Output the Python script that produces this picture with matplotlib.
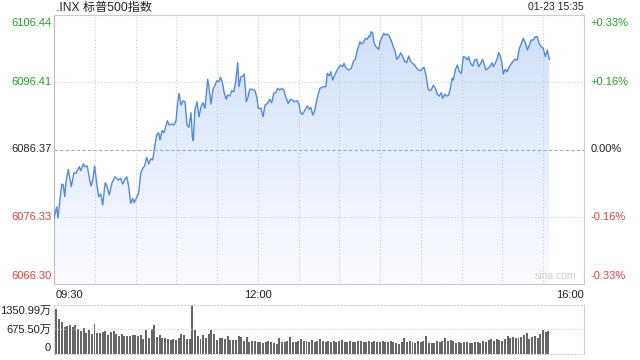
import numpy as np
import matplotlib
matplotlib.use("Agg")
import matplotlib.pyplot as plt
from matplotlib.colors import LinearSegmentedColormap

# ---------------- data ----------------
title = ".INX 标普500指数"
stamp = "01-23 15:35"
prev_close = 6086.37
price_ticks = [6066.30, 6076.33, 6086.37, 6096.41, 6106.44]
pct_labels = ["-0.33%", "-0.16%", "0.00%", "+0.16%", "+0.33%"]
time_labels = ["09:30", "12:00", "16:00"]
vol_ticks = [0, 675.50, 1350.99]
vol_tick_labels = ["0", "675.50万", "1350.99万"]

# minutes after 09:30
minutes = [0.0, 2.0, 2.9, 5.7, 6.8, 7.9, 8.8, 10.5, 12.7, 14.7, 16.2, 18.6, 19.6, 21.6, 22.6, 24.5,
           26.5, 27.4, 28.5, 29.9, 31.4, 32.9, 34.4, 35.8, 37.7, 39.2, 40.7, 42.7, 44.9, 47.3, 49.1,
           50.5, 52.0, 53.5, 55.0, 56.4, 57.9, 58.9, 60.9, 62.3, 63.8, 65.3, 66.7, 68.2, 69.7, 71.2,
           72.6, 74.3, 75.6, 77.0, 78.0, 79.5, 80.9, 83.4, 84.8, 86.8, 88.3, 89.8, 90.7, 92.0, 93.4,
           95.1, 96.4, 97.9, 99.3, 100.8, 101.8, 102.5, 103.7, 105.2, 106.7, 108.2, 109.6, 111.1,
           113.1, 114.0, 115.5, 117.0, 118.5, 119.9, 121.4, 122.4, 123.8, 125.3, 126.8, 127.8, 129.3,
           130.8, 132.2, 133.7, 135.2, 136.1, 137.6, 139.1, 140.0, 141.5, 142.5, 144.0, 145.9, 147.9,
           149.4, 150.3, 152.3, 153.8, 155.3, 157.2, 158.7, 160.2, 161.7, 163.1, 164.6, 166.1, 167.5,
           169.0, 170.9, 172.4, 173.9, 175.3, 176.8, 178.8, 180.3, 181.2, 182.8, 184.9, 186.4, 187.9,
           188.9, 190.4, 191.8, 193.7, 195.7, 198.2, 200.1, 201.1, 202.6, 203.6, 205.1, 207.0, 209.0,
           210.9, 212.4, 213.4, 214.9, 216.8, 218.8, 220.2, 221.7, 223.2, 225.2, 226.1, 227.6, 229.1,
           230.5, 231.6, 232.5, 233.5, 234.5, 235.5, 236.9, 238.9, 239.9, 241.3, 242.8, 243.8, 245.2,
           246.7, 248.2, 249.7, 251.1, 252.2, 253.6, 255.1, 256.6, 258.1, 259.5, 261.0, 262.5, 263.9,
           265.4, 266.9, 268.3, 269.8, 271.3, 272.3, 273.7, 275.2, 276.1, 277.6, 279.1, 280.6, 282.0,
           283.5, 285.0, 286.0, 287.5, 288.9, 290.4, 291.9, 292.9, 293.8, 295.3, 296.8, 298.3, 299.7,
           301.2, 302.7, 304.1, 305.1, 306.6, 308.1, 309.6, 311.0, 312.5, 314.0, 315.4, 316.4, 317.9,
           319.3, 320.8, 322.3, 323.3, 324.7, 326.2, 327.2, 328.2, 329.6, 330.6, 332.1, 333.5, 335.0,
           337.0, 339.0, 340.9, 342.4, 343.8, 345.3, 346.8, 348.3, 349.7, 351.2, 352.7, 354.2, 355.6,
           357.1, 358.6, 360.0, 361.5, 363.0, 364.5]
prices = [6076.15, 6077.83, 6076.15, 6081.22, 6081.07, 6079.33, 6081.57, 6083.42, 6080.82, 6082.91,
          6082.82, 6083.80, 6083.21, 6084.21, 6083.80, 6083.91, 6081.57, 6080.92, 6081.82, 6083.91,
          6081.33, 6079.33, 6079.73, 6078.09, 6081.42, 6080.73, 6079.58, 6081.42, 6082.31, 6081.82,
          6082.07, 6081.22, 6081.82, 6082.31, 6080.82, 6078.34, 6079.09, 6078.43, 6079.24, 6079.92,
          6082.82, 6083.56, 6083.91, 6085.21, 6084.21, 6085.00, 6084.80, 6087.04, 6088.53, 6088.88,
          6087.79, 6089.18, 6088.88, 6090.67, 6090.03, 6090.18, 6090.03, 6090.67, 6092.76, 6094.76,
          6093.01, 6093.65, 6093.50, 6090.03, 6089.68, 6091.86, 6088.28, 6087.68, 6092.26, 6093.50,
          6091.26, 6092.76, 6093.35, 6092.52, 6096.85, 6095.74, 6093.16, 6095.35, 6095.99, 6096.64,
          6096.49, 6097.14, 6096.49, 6094.76, 6093.86, 6094.50, 6094.35, 6095.14, 6094.99, 6096.49,
          6099.32, 6095.74, 6097.23, 6097.34, 6097.64, 6093.50, 6094.01, 6095.35, 6095.35, 6095.14,
          6094.01, 6092.52, 6092.52, 6091.26, 6093.01, 6093.26, 6093.86, 6093.35, 6094.76, 6094.85,
          6095.50, 6095.25, 6095.50, 6095.25, 6094.01, 6093.26, 6093.86, 6093.76, 6093.50, 6093.65,
          6093.16, 6091.97, 6091.59, 6092.37, 6092.86, 6092.37, 6092.67, 6091.52, 6092.16, 6094.01,
          6095.50, 6095.74, 6095.74, 6097.74, 6097.34, 6097.98, 6096.74, 6097.64, 6098.49, 6098.98,
          6098.73, 6099.23, 6098.49, 6098.23, 6098.49, 6099.47, 6099.83, 6101.22, 6102.46, 6102.11,
          6102.31, 6102.96, 6102.81, 6103.31, 6103.20, 6103.95, 6103.80, 6102.31, 6101.71, 6101.32,
          6102.46, 6103.11, 6103.71, 6103.46, 6103.60, 6103.31, 6102.61, 6101.71, 6100.96, 6099.83,
          6100.13, 6100.81, 6100.22, 6099.47, 6099.32, 6100.32, 6099.47, 6099.23, 6098.98, 6098.49,
          6098.23, 6098.13, 6098.49, 6098.64, 6097.49, 6095.50, 6095.17, 6095.25, 6095.99, 6095.50,
          6094.65, 6094.35, 6094.85, 6094.01, 6094.65, 6094.35, 6094.50, 6095.74, 6096.99, 6096.74,
          6098.23, 6098.98, 6097.98, 6097.74, 6100.22, 6100.13, 6099.73, 6100.22, 6099.23, 6098.83,
          6099.73, 6099.83, 6098.73, 6099.23, 6099.83, 6099.13, 6098.23, 6098.49, 6098.73, 6099.32,
          6098.73, 6099.23, 6099.98, 6100.81, 6100.47, 6099.32, 6097.64, 6098.34, 6097.98, 6098.73,
          6099.32, 6099.83, 6099.73, 6101.47, 6102.11, 6102.96, 6102.31, 6101.22, 6101.96, 6102.71,
          6102.71, 6103.20, 6103.20, 6102.11, 6101.71, 6101.47, 6100.22, 6101.22, 6099.83]

# volume per 2-minute bar (万), bar start minute
vol_minutes = list(range(0, 364, 2))
volumes = [1242, 959, 886, 758, 776, 794, 758, 803, 685, 639,
           712, 575, 648, 548, 831, 575, 575, 603, 639, 530,
           603, 639, 548, 484, 557, 484, 484, 502, 520, 530,
           502, 520, 420, 648, 438, 685, 803, 466, 530, 438,
           438, 411, 393, 411, 393, 438, 557, 530, 411, 420,
           1351, 648, 484, 411, 511, 438, 557, 666, 557, 393,
           438, 438, 411, 484, 374, 374, 374, 484, 466, 347,
           456, 320, 365, 365, 329, 320, 301, 320, 347, 338,
           301, 274, 438, 338, 329, 347, 456, 320, 320, 347,
           411, 347,
           350, 330, 380, 340, 360, 420, 350, 330, 370, 340,
           360, 330, 350, 380, 340, 320, 360, 340, 330, 350,
           370, 340, 320, 360, 330, 350, 340, 320, 360, 340,
           330, 350, 320, 300,
           276, 340, 432, 340, 368, 340, 312, 358, 340, 368,
           496, 294, 294, 312, 358, 322, 358, 432, 368, 386,
           368, 312, 322, 312, 340, 322, 312, 312, 340, 322,
           312, 358, 340, 386, 414, 368, 404, 386, 368, 404,
           496, 432, 460, 432, 450, 460, 524, 570, 414, 478,
           496, 450, 542, 662, 597, 634]

# ---------------- style ----------------
plt.rcParams['font.family'] = ['Liberation Sans', 'Noto Sans CJK SC', 'DejaVu Sans']
GREEN = "#1ea51e"
RED = "#f03c3c"
BLACK = "#222222"
LINE = "#5089ea"
GRID = "#cccccc"

W, H = 640, 360
fig = plt.figure(figsize=(W / 100, H / 100), dpi=100)

def fx(px):
    return px / W

def fy(py):
    return 1 - py / H

L, R = 54, 584
ax = fig.add_axes([fx(L), fy(284), fx(R - L), fy(15) - fy(284)])
axv = fig.add_axes([fx(L), fy(354), fx(R - L), fy(305) - fy(354)])

ymin, ymax = price_ticks[0], price_ticks[-1]
ax.set_xlim(0, 390)
ax.set_ylim(ymin, ymax)

# gradient fill under line
cmap = LinearSegmentedColormap.from_list("g", ["#fbfcff", "#cfdff8"])
grad = np.linspace(0, 1, 256).reshape(-1, 1)
im = ax.imshow(grad, extent=[0, 390, ymin, ymax], origin="lower", aspect="auto",
               cmap=cmap, zorder=1)
poly = ax.fill_between(minutes, prices, ymin, color="none", lw=0)
clip = poly.get_paths()[0]
im.set_clip_path(clip, transform=ax.transData)
ax.plot(minutes, prices, color=LINE, lw=1.0, zorder=3)

# grid
for m in range(30, 390, 30):
    ax.axvline(m, color=GRID, lw=0.8, ls=(0, (1, 2)), zorder=2)
for p in (price_ticks[1], price_ticks[3]):
    ax.axhline(p, color=GRID, lw=0.8, ls=(0, (1, 2)), zorder=2)
ax.axhline(prev_close, color="#aaaaaa", lw=0.8, ls=(0, (3, 2)), zorder=2)

ax.set_xticks([])
ax.set_yticks([])
for s in ax.spines.values():
    s.set_color("#cccccc")
    s.set_linewidth(0.8)
ax.spines['left'].set_color("#bbbbbb")

# price labels
cols = [RED, RED, BLACK, GREEN, GREEN]
vas = ["bottom", "center", "center", "center", "top"]
offs = [2.5, 0, 0, 0, -2.5]
for p, c, va, o, pl in zip(price_ticks, cols, vas, offs, pct_labels):
    ax.annotate(f"{p:.2f}", xy=(0, p), xycoords=("axes fraction", "data"),
                xytext=(-2, o), textcoords="offset points", ha="right", va=va,
                color=c, fontsize=8)
    ax.annotate(pl, xy=(1, p), xycoords=("axes fraction", "data"),
                xytext=(4.5, o), textcoords="offset points", ha="left", va=va,
                color=c, fontsize=8)

# time labels
ax.text(0.004, -0.022, time_labels[0], transform=ax.transAxes, ha="left", va="top",
        fontsize=8, color=BLACK)
ax.text(150 / 390, -0.022, time_labels[1], transform=ax.transAxes, ha="center", va="top",
        fontsize=8, color=BLACK)
ax.text(1.0, -0.022, time_labels[2], transform=ax.transAxes, ha="right", va="top",
        fontsize=8, color=BLACK)

# title & stamp
fig.text(fx(56), fy(7.5), title, ha="left", va="center", fontsize=8.7, color=BLACK)
fig.text(fx(584), fy(7.5), stamp, ha="right", va="center", fontsize=7.5, color=BLACK)
ax.text(0.985, 0.012, "sina.com", transform=ax.transAxes, ha="right", va="bottom",
        fontsize=7.5, color="#cfcfcf")

# volume
axv.set_xlim(0, 390)
axv.set_ylim(0, vol_ticks[-1])
bar_x = [m + 1.8 for m in vol_minutes]
axv.bar(bar_x, volumes, width=1.45, align="center", color="#666666", lw=0)
axv.axhline(vol_ticks[1], color=GRID, lw=0.8, ls=(0, (1, 2)))
axv.set_xticks([])
axv.set_yticks([])
for k in ('top', 'bottom', 'left'):
    axv.spines[k].set_linestyle((0, (1, 2)))
    axv.spines[k].set_color(GRID)
    axv.spines[k].set_linewidth(0.8)
axv.spines['right'].set_color("#cccccc")
axv.spines['right'].set_linewidth(0.8)
vvas = ["bottom", "center", "top"]
voffs = [1, 0, -1]
for v, lab, va, o in zip(vol_ticks, vol_tick_labels, vvas, voffs):
    axv.annotate(lab, xy=(0, v), xycoords=("axes fraction", "data"),
                 xytext=(-2, o), textcoords="offset points", ha="right", va=va,
                 color=BLACK, fontsize=8)

fig.savefig("out.png", dpi=100)
